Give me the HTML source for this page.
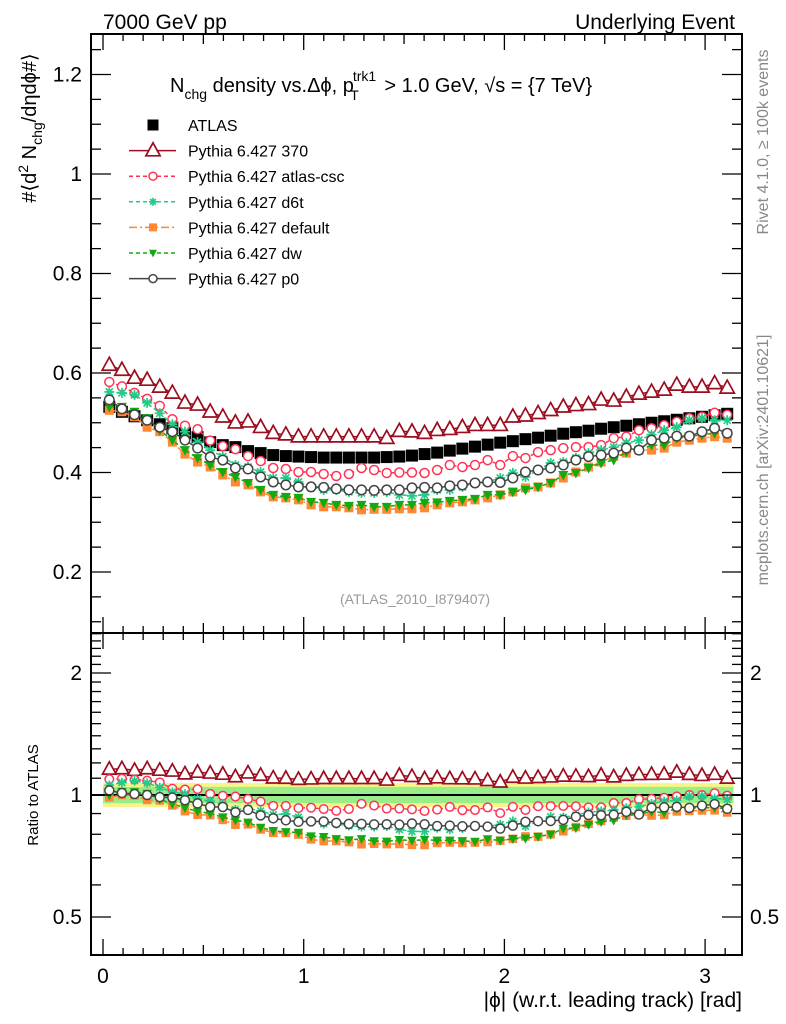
<!DOCTYPE html>
<html><head><meta charset="utf-8">
<style>
html,body{margin:0;padding:0;background:#fff;}
svg{display:block;font-family:"Liberation Sans",sans-serif;}
</style></head>
<body>
<svg id="chart" width="786" height="1024" viewBox="0 0 786 1024" xmlns="http://www.w3.org/2000/svg">
<rect x="0" y="0" width="786" height="1024" fill="#fff"/>
<text x="103" y="29" font-size="21">7000 GeV pp</text>
<text x="735" y="29" font-size="21" text-anchor="end">Underlying Event</text>
<text transform="translate(768,142) rotate(-90)" font-size="16" fill="#888" text-anchor="middle">Rivet 4.1.0, ≥ 100k events</text>
<text transform="translate(768,460) rotate(-90)" font-size="16" fill="#888" text-anchor="middle">mcplots.cern.ch [arXiv:2401.10621]</text>
<text x="170" y="92" font-size="20">N<tspan font-size="14" dy="7">chg</tspan><tspan dy="-7"> density vs.Δϕ, p</tspan><tspan font-size="14" dx="-1" dy="-11">trk1</tspan><tspan font-size="14" dx="-26" dy="19">T</tspan><tspan dx="20" dy="-8"> &gt; 1.0 GeV, √s = {7 TeV}</tspan></text>
<text transform="translate(36,128) rotate(-90)" font-size="20" text-anchor="middle">#⟨d<tspan font-size="14" dy="-8">2</tspan><tspan dy="8"> N</tspan><tspan font-size="14" dy="6">chg</tspan><tspan dy="-6">/dηdϕ#⟩</tspan></text>
<text transform="translate(38,795) rotate(-90)" font-size="15" text-anchor="middle">Ratio to ATLAS</text>
<text x="742" y="1007" font-size="21" text-anchor="end">|ϕ| (w.r.t. leading track) [rad]</text>
<text x="415" y="604" font-size="14" fill="#999" text-anchor="middle">(ATLAS_2010_I879407)</text>
<g id="plot"></g>
</svg>
<script>
const xEdges = [0, Math.PI];
const nBins = 50;
const atlas = [.532,.522,.513,.505,.497,.489,.479,.471,.461,.455,.451,.443,.439,.435,
.433,.432,.431,.430,.430,.430,.430,.430,.431,.432,.434,
.437,.440,.444,.448,.452,.456,.460,.463,.467,.470,.474,.478,.481,.484,.488,.491,.494,.497,.500,.503,.506,.509,.512,.515,.518];
const py370 = [.616,.606,.590,.586,.572,.560,.540,.536,.522,.512,.500,.502,.491,.479,.476,.472,.472,.472,.472,.472,.472,.472,.469,.483,.482,
.479,.485,.487,.491,.495,.495,.495,.512,.514,.519,.525,.532,.535,.537,.546,.544,.552,.558,.562,.566,.576,.572,.572,.579,.570];
const pyCsc = [.582,.573,.560,.548,.534,.507,.494,.487,.464,.453,.447,.433,.423,.409,.407,.401,.401,.397,.393,.397,.409,.405,.399,.400,.400,
.399,.405,.415,.411,.415,.425,.415,.433,.429,.441,.445,.449,.451,.451,.455,.469,.472,.485,.489,.495,.502,.509,.512,.520,.516];
const pyD6t = [.562,.560,.556,.540,.519,.497,.482,.461,.445,.432,.415,.411,.401,.389,.389,.381,.371,.365,.365,.361,.359,.359,.361,.355,.353,
.355,.365,.365,.371,.379,.381,.389,.399,.391,.405,.419,.421,.429,.439,.445,.451,.459,.465,.476,.485,.491,.505,.509,.505,.505];
const pyDefault = [.525,.522,.512,.491,.482,.461,.437,.421,.411,.395,.381,.375,.361,.351,.349,.345,.335,.331,.331,.329,.325,.326,.326,.327,.327,
.329,.335,.339,.341,.345,.349,.355,.361,.369,.371,.379,.389,.401,.411,.421,.432,.439,.445,.445,.449,.461,.465,.469,.472,.469];
const pyDw = [.532,.532,.522,.509,.485,.465,.445,.429,.415,.401,.391,.379,.365,.355,.351,.349,.341,.339,.335,.333,.335,.331,.331,.335,.335,
.339,.340,.343,.345,.347,.355,.355,.361,.365,.371,.379,.395,.399,.409,.419,.425,.441,.445,.455,.455,.469,.472,.476,.479,.479];
const pyP0 = [.546,.528,.516,.505,.491,.482,.465,.449,.431,.425,.409,.407,.391,.381,.375,.371,.371,.370,.367,.365,.365,.364,.365,.365,.369,
.370,.369,.373,.375,.379,.381,.380,.389,.401,.405,.409,.415,.425,.432,.435,.439,.449,.445,.465,.469,.473,.473,.482,.489,.479];
const mainTicks = [0.2,0.4,0.6,0.8,1,1.2];
const mainTickLabels = ["0.2","0.4","0.6","0.8","1","1.2"];
const ratioTicks = [0.5,1,2];
const ratioTickLabels = ["0.5","1","2"];
const xTicks = [0,1,2,3];
const xTickLabels = ["0","1","2","3"];
const bandYellow = [0.934,1.07];
const bandGreen = [0.955,1.047];

const L=91,R=742,T=34,MID=633,B=955;
const X0=103, XS=200.7;
function xs(v){return X0+v*XS;}
function ym(v){return 174+(1-v)*497.5;}
function yr(r){return 795-122*Math.log2(r);}
const NS="http://www.w3.org/2000/svg";
const g=document.getElementById('plot');
function el(tag,attrs,parent){const e=document.createElementNS(NS,tag);for(const k in attrs)e.setAttribute(k,attrs[k]);(parent||g).appendChild(e);return e;}
const centers=[];for(let i=0;i<nBins;i++)centers.push(xEdges[0]+(i+0.5)*(xEdges[1]-xEdges[0])/nBins);

let b=el('rect',{x:xs(xEdges[0]),y:yr(bandYellow[1]),width:xs(xEdges[1])-xs(xEdges[0]),height:yr(bandYellow[0])-yr(bandYellow[1]),fill:'#f5f58a'});


b=el('rect',{x:xs(xEdges[0]),y:yr(bandGreen[1]),width:xs(xEdges[1])-xs(xEdges[0]),height:yr(bandGreen[0])-yr(bandGreen[1]),fill:'#9aee8a'});


b=el('line',{x1:L,x2:R,y1:yr(1),y2:yr(1),stroke:'#000','stroke-width':2});



function marker(type,cx,cy,color,s,parent){
  let m;
  if(type==='sq') m=el('rect',{x:cx-s/2,y:cy-s/2,width:s,height:s,fill:color},parent);
  else if(type==='tri') m=el('polygon',{points:`${cx},${cy-s*0.6} ${cx-s*0.55},${cy+s*0.4} ${cx+s*0.55},${cy+s*0.4}`,fill:'#fff',stroke:color,'stroke-width':1.7},parent);
  else if(type==='circ') m=el('circle',{cx:cx,cy:cy,r:s/2,fill:'#fff',stroke:color,'stroke-width':1.5},parent);
  else if(type==='tridown') m=el('polygon',{points:`${cx},${cy+s*0.55} ${cx-s*0.5},${cy-s*0.4} ${cx+s*0.5},${cy-s*0.4}`,fill:color},parent);
  else if(type==='star'){m=el('g',{stroke:color,'stroke-width':1.7},parent);const r=s/2;
    for(let a=0;a<4;a++){const t=a*Math.PI/4;el('line',{x1:cx-r*Math.cos(t),y1:cy-r*Math.sin(t),x2:cx+r*Math.cos(t),y2:cy+r*Math.sin(t)},m);}}
  return m;
}
const series=[
 {name:'pythia-370',data:py370,color:'#9b0d1f',type:'tri',dash:'',size:13,label:'Pythia 6.427 370'},
 {name:'pythia-atlas-csc',data:pyCsc,color:'#ff3355',type:'circ',dash:'4,3',size:9,label:'Pythia 6.427 atlas-csc'},
 {name:'pythia-d6t',data:pyD6t,color:'#22cc88',type:'star',dash:'4,3',size:10,label:'Pythia 6.427 d6t'},
 {name:'pythia-default',data:pyDefault,color:'#ff8833',type:'sq',dash:'8,3,2,3',size:9,label:'Pythia 6.427 default'},
 {name:'pythia-dw',data:pyDw,color:'#11aa11',type:'tridown',dash:'4,3',size:10,label:'Pythia 6.427 dw'},
 {name:'pythia-p0',data:pyP0,color:'#444444',type:'circ',dash:'',size:9.5,label:'Pythia 6.427 p0'}
];
const ga=el('g',{});
atlas.forEach((v,i)=>{const m=marker('sq',xs(centers[i]),ym(v),'#000',12,ga);});
series.forEach(s=>{
  const gs=el('g',{});
  const gr=el('g',{});
  el('polyline',{points:s.data.map((v,i)=>xs(centers[i])+','+ym(v)).join(' '),fill:'none',stroke:s.color,'stroke-width':1.5,'stroke-dasharray':s.dash},gs);
  el('polyline',{points:s.data.map((v,i)=>xs(centers[i])+','+yr(v/atlas[i])).join(' '),fill:'none',stroke:s.color,'stroke-width':1.5,'stroke-dasharray':s.dash},gr);
  s.data.forEach((v,i)=>{
    const m=marker(s.type,xs(centers[i]),ym(v),s.color,s.size,gs);
    
    
    const r=marker(s.type,xs(centers[i]),yr(v/atlas[i]),s.color,s.size*0.95,gr);
    
    
  });
});
let f=el('rect',{x:L,y:T,width:R-L,height:MID-T,fill:'none',stroke:'#000','stroke-width':2});

f=el('rect',{x:L,y:MID,width:R-L,height:B-MID,fill:'none',stroke:'#000','stroke-width':2});

for(let k=0;k<=31;k++){const v=k/10;const x=xs(v);const major=k%10===0;const len=major?16:(k%5===0?10:7);
  [[MID,-1],[B,-1],[T,1],[MID,1]].forEach(([y0,d])=>{el('line',{x1:x,x2:x,y1:y0,y2:y0+d*len,stroke:'#000','stroke-width':1.3});});}
xTicks.forEach((v,i)=>{const t=el('text',{x:xs(v),y:983,'font-size':21,'text-anchor':'middle'});t.textContent=xTickLabels[i];});
for(let k=2;k<=25;k++){const v=k*0.05;const y=ym(v);if(y<T||y>MID)continue;const major=k%4===0;const len=major?20:10;
  el('line',{x1:L,x2:L+len,y1:y,y2:y,stroke:'#000','stroke-width':1.3});el('line',{x1:R,x2:R-len,y1:y,y2:y,stroke:'#000','stroke-width':1.3});}
mainTicks.forEach((v,i)=>{const t=el('text',{x:82,y:ym(v)+7,'font-size':21,'text-anchor':'end'});t.textContent=mainTickLabels[i];});
const rMinor=[0.5,0.6,0.7,0.8,0.9,1,1.1,1.2,1.3,1.4,1.5,1.6,1.7,1.8,1.9,2,2.1,2.2,2.3,2.4,2.5];
rMinor.forEach(v=>{const y=yr(v);if(y<MID||y>B)return;const major=ratioTicks.includes(v);const len=major?20:10;
  el('line',{x1:L,x2:L+len,y1:y,y2:y,stroke:'#000','stroke-width':1.3});el('line',{x1:R,x2:R-len,y1:y,y2:y,stroke:'#000','stroke-width':1.3});});
ratioTicks.forEach((v,i)=>{let t=el('text',{x:82,y:yr(v)+7,'font-size':21,'text-anchor':'end'});t.textContent=ratioTickLabels[i];
  t=el('text',{x:750,y:yr(v)+7,'font-size':21});t.textContent=ratioTickLabels[i];});
const lg=el('g',{});
const rows=[{label:'ATLAS',type:'sq',color:'#000',size:11,dash:null}].concat(series.map(s=>({label:s.label,type:s.type,color:s.color,size:s.type==='tri'?13:8,dash:s.dash})));
rows.forEach((r,i)=>{const y=125+i*25.6;const e=el('g',{},lg);
  if(r.dash!==null)el('line',{x1:129,x2:176,y1:y,y2:y,stroke:r.color,'stroke-width':1.5,'stroke-dasharray':r.dash},e);
  marker(r.type,153,y,r.color,r.size,e);
  const t=el('text',{x:188,y:y+6,'font-size':16},e);t.textContent=r.label;});
</script>
</body></html>
